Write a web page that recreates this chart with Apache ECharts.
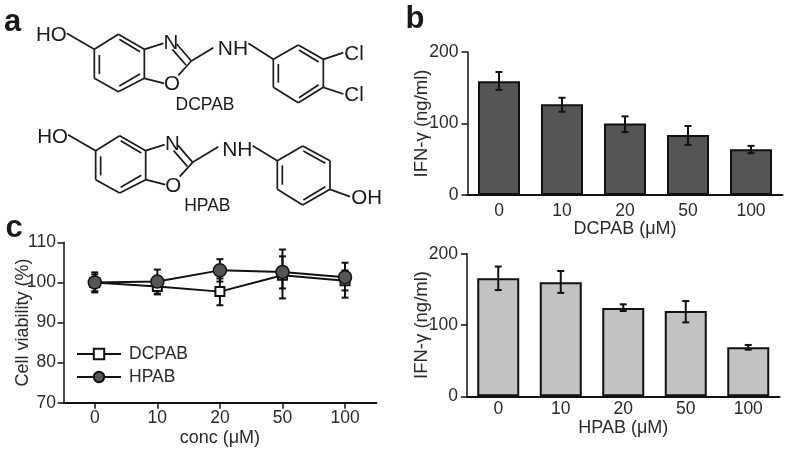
<!DOCTYPE html>
<html>
<head>
<meta charset="utf-8">
<style>
    html, body { margin: 0; padding: 0; background: #fff; }
    #main { width: 787px; height: 452px; }
</style>
<script src="https://cdn.jsdelivr.net/npm/echarts@6/dist/echarts.min.js"></script>
</head>
<body>
<div id="main"></div>
<script>
    // data
    const concLabels = ['0', '10', '20', '50', '100'];

    const dcpabIfn = [159, 127, 100, 84, 64];
    const dcpabIfnHigh = [172, 136, 110, 96.5, 68.7];
    const dcpabIfnLow = [147, 116.5, 88, 70, 58.5];

    const hpabIfn = [165.4, 160, 124, 119.6, 68.7];
    const hpabIfnHigh = [182, 175.7, 129, 133.6, 72];
    const hpabIfnLow = [149, 145, 119.6, 103.7, 65.4];

    const dcpabViability = [100, 99, 97.7, 101.8, 100.4];
    const dcpabViabilityHigh = [102, 101, 101, 106.5, 103];
    const dcpabViabilityLow = [97.8, 97, 94.3, 98.5, 96.2];

    const hpabViability = [100, 100.2, 103, 102.6, 101.3];
    const hpabViabilityHigh = [102.5, 103.2, 105.8, 108.2, 104.9];
    const hpabViabilityLow = [97.5, 97.2, 100.2, 96, 98];

    const FONT = '"Liberation Sans", Arial, sans-serif';
    const INK = '#2a2a2a';

    function zip(low, high) {
        return concLabels.map((c, i) => [i, low[i], high[i]]);
    }

    function errorSeries(low, high, xAxisIndex, yAxisIndex, z) {
        return {
            type: 'custom',
            xAxisIndex: xAxisIndex,
            yAxisIndex: yAxisIndex,
            z: z,
            silent: true,
            data: zip(low, high),
            renderItem(params, api) {
                const lo = api.coord([api.value(0), api.value(1)]);
                const hi = api.coord([api.value(0), api.value(2)]);
                const cap = 3.5;
                const style = { stroke: '#111', lineWidth: 2, fill: null };
                return {
                    type: 'group',
                    children: [
                        { type: 'line', shape: { x1: lo[0], y1: lo[1], x2: hi[0], y2: hi[1] }, style: style },
                        { type: 'line', shape: { x1: lo[0] - cap, y1: lo[1], x2: lo[0] + cap, y2: lo[1] }, style: style },
                        { type: 'line', shape: { x1: hi[0] - cap, y1: hi[1], x2: hi[0] + cap, y2: hi[1] }, style: style }
                    ]
                };
            }
        };
    }

    function catAxis(gridIndex, name, nameGap, showTick, margin) {
        return {
            type: 'category',
            gridIndex: gridIndex,
            data: concLabels,
            name: name,
            nameLocation: 'middle',
            nameGap: nameGap,
            nameMoveOverlap: false,
            nameTextStyle: { color: INK, fontSize: 18, fontFamily: FONT },
            axisLine: { lineStyle: { color: '#111', width: 2 } },
            axisTick: { show: showTick, alignWithLabel: true, length: 6, lineStyle: { color: '#111', width: 1.5 } },
            axisLabel: { color: INK, fontSize: 17.5, fontFamily: FONT, margin: margin },
            splitLine: { show: false }
        };
    }

    function valAxis(gridIndex, min, max, interval, name, nameGap, nameSize, margin) {
        return {
            type: 'value',
            gridIndex: gridIndex,
            min: min,
            max: max,
            interval: interval,
            name: name,
            nameLocation: 'middle',
            nameGap: nameGap,
            nameMoveOverlap: false,
            nameTextStyle: { color: INK, fontSize: nameSize, fontFamily: FONT },
            axisLine: { show: true, lineStyle: { color: '#111', width: 1.5 } },
            axisTick: { show: true, length: 6, lineStyle: { color: '#111', width: 1.5 } },
            axisLabel: { color: INK, fontSize: 17.5, fontFamily: FONT, margin: margin },
            splitLine: { show: false }
        };
    }

    function barSeries(values, color, axisIndex) {
        return {
            type: 'bar',
            xAxisIndex: axisIndex,
            yAxisIndex: axisIndex,
            barWidth: 42,
            z: 2,
            data: values,
            itemStyle: { color: color, borderColor: '#111', borderWidth: 2 }
        };
    }

    // ---- chemical structures, drawn in the units of a 3x crop
    function bond(x1, y1, x2, y2) {
        return {
            type: 'line',
            shape: { x1: x1 / 3, y1: y1 / 3, x2: x2 / 3, y2: y2 / 3 },
            style: { stroke: '#1a1a1a', lineWidth: 1.7 }
        };
    }

    function label(text, x, y, size, weight) {
        return {
            type: 'text',
            x: x / 3,
            y: y / 3,
            style: {
                text: text,
                fontSize: size,
                fontWeight: weight || 'normal',
                fontFamily: FONT,
                fill: '#1a1a1a',
                align: 'center',
                verticalAlign: 'middle'
            }
        };
    }

    function benzoxazole(dx, dy, nhX, nhY) {
        const b = (x1, y1, x2, y2) => bond(x1 + dx, y1 + dy, x2 + dx, y2 + dy);
        return [
            b(200, 100, 283, 148),
            b(283, 148, 355, 103), b(355, 103, 433, 148), b(433, 148, 433, 235),
            b(433, 235, 355, 275), b(355, 275, 283, 235), b(283, 235, 283, 148),
            b(298, 165, 298, 222), b(358, 118, 420, 155), b(358, 258, 420, 222),
            b(433, 148, 490, 130), b(433, 235, 492, 250),
            b(530, 132, 574, 183), b(517, 148, 558, 195),
            b(574, 183, 535, 226), b(574, 183, nhX, nhY)
        ].concat([
            label('HO', 154 + dx, 107 + dy, 20.5),
            label('N', 513 + dx, 130 + dy, 20.5),
            label('O', 516 + dx, 254 + dy, 20.5)
        ]);
    }

    function sideRing(x0, x1, x2, yt, y1, y2, yb) {
        return [
            bond(x0, y1, x1, yt), bond(x1, yt, x2, y1), bond(x2, y1, x2, y2),
            bond(x2, y2, x1, yb), bond(x1, yb, x0, y2), bond(x0, y2, x0, y1),
            bond(x0 + 15, y1 + 14, x0 + 15, y2 - 14),
            bond(x1 + 2, yt + 15, x2 - 14, y1 + 8),
            bond(x1 + 2, yb - 15, x2 - 14, y2 - 8)
        ];
    }

    const structures = [].concat(
        benzoxazole(0, 0, 640, 143),
        [label('NH', 699, 148, 21), bond(745, 130, 820, 178)],
        sideRing(820, 895, 970, 135, 178, 262, 308),
        [bond(970, 178, 1030, 158), bond(970, 262, 1030, 282)],
        [label('Cl', 1062, 164, 20.5), label('Cl', 1062, 287, 20.5), label('DCPAB', 615, 317, 17.5)],
        benzoxazole(4, 304, 651, 136),
        [label('NH', 712, 452, 21), bond(758, 437, 832, 482)],
        sideRing(832, 908, 990, 438, 482, 568, 615),
        [bond(990, 568, 1050, 590), label('OH', 1100, 594, 20.5), label('HPAB', 622, 619, 17.5)],
        [label('a', 38, 66, 31, 'bold'), label('b', 1245, 58, 31, 'bold'), label('c', 42, 684, 31, 'bold')]
    );

    const option = {
        animation: false,
        backgroundColor: '#fff',
        graphic: { elements: structures },
        grid: [
            { left: 467.5, top: 52, width: 315, height: 143, outerBoundsMode: 'none' },
            { left: 467, top: 253.7, width: 312.5, height: 142.6, outerBoundsMode: 'none' },
            { left: 63.5, top: 242.3, width: 312.8, height: 160.4, outerBoundsMode: 'none' }
        ],
        xAxis: [
            catAxis(0, 'DCPAB (μM)', 25, false, 7),
            catAxis(1, 'HPAB (μM)', 23, false, 4),
            catAxis(2, 'conc (μM)', 26, true, 6.5)
        ],
        yAxis: [
            valAxis(0, 0, 200, 100, 'IFN-γ (ng/ml)', 36, 18.5, 9),
            valAxis(1, 0, 200, 100, 'IFN-γ (ng/ml)', 36, 18.5, 9),
            valAxis(2, 70, 110, 10, 'Cell viability (%)', 31, 18, 7.5)
        ],
        legend: {
            orient: 'vertical',
            left: 71,
            top: 340,
            itemWidth: 44,
            itemHeight: 13,
            itemGap: 5,
            selectedMode: false,
            textStyle: { color: INK, fontSize: 17.5, fontFamily: FONT, padding: [0, 0, 0, 3] },
            data: ['DCPAB', 'HPAB']
        },
        series: [
            barSeries(dcpabIfn, '#555555', 0),
            errorSeries(dcpabIfnLow, dcpabIfnHigh, 0, 0, 3),
            barSeries(hpabIfn, '#c2c2c2', 1),
            errorSeries(hpabIfnLow, hpabIfnHigh, 1, 1, 3),
            errorSeries(dcpabViabilityLow, dcpabViabilityHigh, 2, 2, 2),
            errorSeries(hpabViabilityLow, hpabViabilityHigh, 2, 2, 2),
            {
                name: 'DCPAB',
                type: 'line',
                xAxisIndex: 2,
                yAxisIndex: 2,
                z: 3,
                data: dcpabViability,
                symbol: 'rect',
                symbolSize: 9,
                lineStyle: { color: '#111', width: 2 },
                itemStyle: { color: '#fff', borderColor: '#111', borderWidth: 2 }
            },
            {
                name: 'HPAB',
                type: 'line',
                xAxisIndex: 2,
                yAxisIndex: 2,
                z: 4,
                data: hpabViability,
                symbol: 'circle',
                symbolSize: 13,
                lineStyle: { color: '#111', width: 2 },
                itemStyle: { color: '#555555', borderColor: '#111', borderWidth: 1.5 }
            }
        ]
    };

    const chart = echarts.init(document.getElementById('main'));
    chart.setOption(option);
</script>
</body>
</html>
